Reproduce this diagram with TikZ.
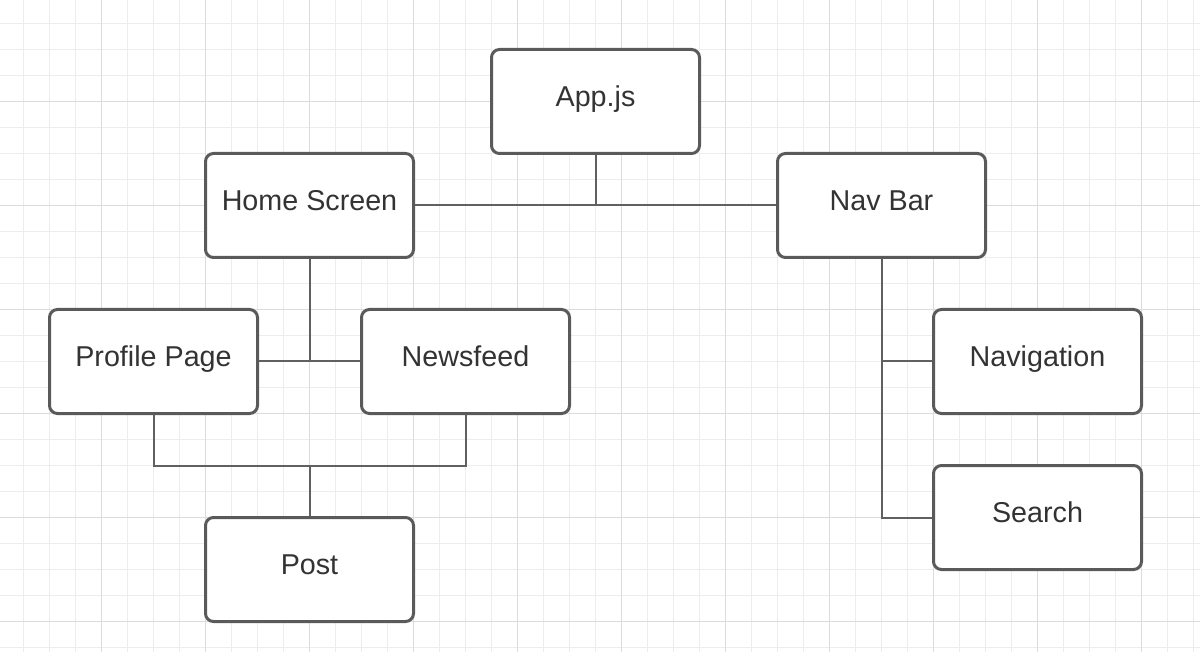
\documentclass[tikz,border=0pt]{standalone}
\usepackage{fontspec}
\setmainfont{Liberation Sans}
\definecolor{minorgrid}{HTML}{EDEDED}
\definecolor{majorgrid}{HTML}{DCDCDC}
\definecolor{boxline}{HTML}{5A5A5A}
\definecolor{conn}{HTML}{606060}
\definecolor{txt}{HTML}{333333}
\begin{document}
\begin{tikzpicture}[x=1pt,y=-1pt,
  blk/.style={draw=boxline, line width=3pt, rounded corners=8pt, fill=white,
    minimum width=208pt, minimum height=104pt, inner sep=0pt,
    text height=20pt, text depth=10pt, text=txt,
    font=\fontsize{28.7}{32}\selectfont},
  wire/.style={draw=conn, line width=2pt}]
\useasboundingbox (0,0) rectangle (1200,652);
\fill[white] (0,0) rectangle (1200,652);
% grid
\foreach \k in {0,...,45} {\draw[minorgrid, line width=1pt] (23.5+26*\k,0) -- (23.5+26*\k,652);}
\foreach \k in {0,...,24} {\draw[minorgrid, line width=1pt] (0,23.5+26*\k) -- (1200,23.5+26*\k);}
\foreach \k in {1,...,11} {\draw[majorgrid, line width=1pt] (-2.5+104*\k,0) -- (-2.5+104*\k,652);}
\foreach \k in {1,...,6} {\draw[majorgrid, line width=1pt] (0,-2.5+104*\k) -- (1200,-2.5+104*\k);}
% box positions
\coordinate (cApp) at (595.5,101.5);
\coordinate (cHome) at (309.5,205.5);
\coordinate (cNav) at (881.5,205.5);
\coordinate (cProf) at (153.5,361.5);
\coordinate (cNews) at (465.5,361.5);
\coordinate (cPost) at (309.5,569.5);
\coordinate (cNavi) at (1037.5,361.5);
\coordinate (cSearch) at (1037.5,517.5);
\node[blk] (app) at (cApp) {App.js};
\node[blk] (home) at (cHome) {Home Screen};
\node[blk] (nav) at (cNav) {Nav Bar};
\node[blk] (prof) at (cProf) {Profile Page};
\node[blk] (news) at (cNews) {Newsfeed};
\node[blk] (post) at (cPost) {Post};
\node[blk] (navi) at (cNavi) {Navigation};
\node[blk] (search) at (cSearch) {Search};
\coordinate (jApp) at (app.south |- home.east);
\coordinate (jHome) at (home.south |- prof.east);
\coordinate (jProf) at (prof.south |- 0,465.5);
\coordinate (jNews) at (news.south |- 0,465.5);
\coordinate (jPost) at (post.north |- 0,465.5);
\coordinate (jNavi) at (nav.south |- navi.west);
\coordinate (jSearch) at (nav.south |- search.west);
\draw[wire] (app.south) -- (jApp);
\draw[wire] (home.east) -- (nav.west);
\draw[wire] (home.south) -- (jHome);
\draw[wire] (prof.east) -- (news.west);
\draw[wire] (prof.south) -- (jProf) -- (jNews) -- (news.south);
\draw[wire] (post.north) -- (jPost);
\draw[wire] (nav.south) -- (jSearch) -- (search.west);
\draw[wire] (jNavi) -- (navi.west);
\end{tikzpicture}
\end{document}
